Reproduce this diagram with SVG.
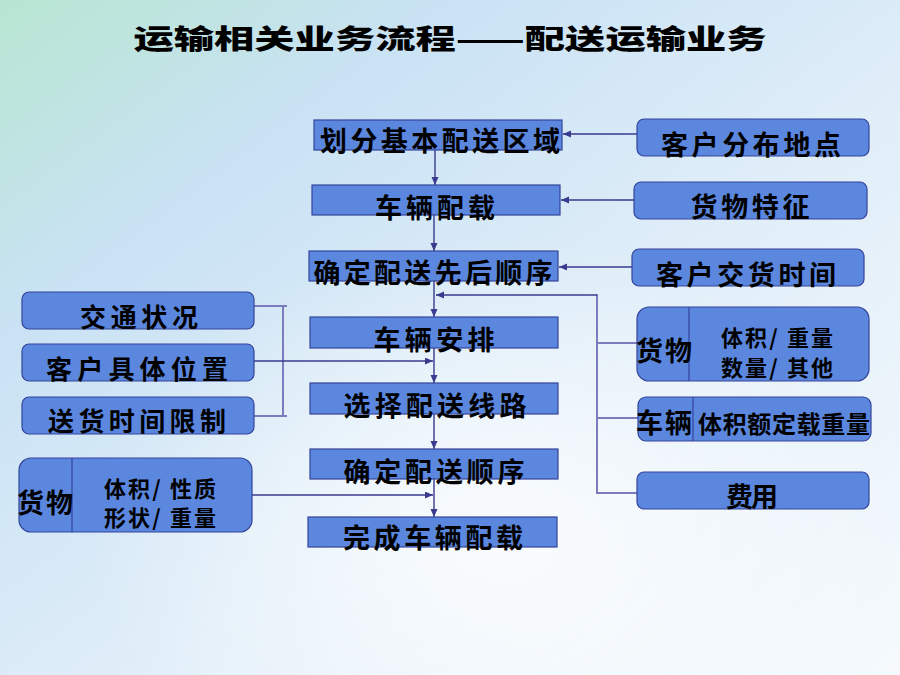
<svg xmlns="http://www.w3.org/2000/svg" width="900" height="675" viewBox="0 0 900 675">
<defs>
<linearGradient id="bg" x1="0" y1="0" x2="1" y2="1">
<stop offset="0" stop-color="#b8e6d2"/>
<stop offset="0.25" stop-color="#c9e2f4"/>
<stop offset="0.6" stop-color="#e2eff9"/>
<stop offset="1" stop-color="#f6fafd"/>
</linearGradient>
<radialGradient id="glow" cx="0.55" cy="0.8" r="0.45">
<stop offset="0" stop-color="#ffffff" stop-opacity="0.8"/>
<stop offset="1" stop-color="#ffffff" stop-opacity="0"/>
</radialGradient>
<marker id="ah" markerUnits="userSpaceOnUse" markerWidth="9" markerHeight="8" refX="8" refY="3.5" orient="auto">
<path d="M0,0 L8,3.5 L0,7 z" fill="#3a3a8e"/>
</marker>
<style>
.box{fill:#5b87de;stroke:#34449a;stroke-width:1.2}
.t{font-family:"Noto Sans CJK SC","Noto Sans CJK JP",sans-serif;font-weight:700;fill:#000;text-anchor:middle}
.c{stroke:#3a3a8e;stroke-width:1.4;fill:none}
.b{stroke:#7b7bbd;stroke-width:2;fill:none}
.div{stroke:#34449a;stroke-width:1.2}
</style>
</defs>
<rect width="900" height="675" fill="url(#bg)"/>
<rect width="900" height="675" fill="url(#glow)"/>

<text x="450" y="49" class="t" style="font-size:27px;font-weight:900" textLength="633" lengthAdjust="spacingAndGlyphs">运输相关业务流程——配送运输业务</text>

<g id="connectors">
<line class="c" x1="435" y1="150" x2="435" y2="185" marker-end="url(#ah)"/>
<line class="c" x1="434" y1="215" x2="434" y2="251" marker-end="url(#ah)"/>
<line class="c" x1="434" y1="281" x2="434" y2="317" marker-end="url(#ah)"/>
<line class="c" x1="434" y1="348" x2="434" y2="383" marker-end="url(#ah)"/>
<line class="c" x1="434" y1="414" x2="434" y2="449" marker-end="url(#ah)"/>
<line class="c" x1="434" y1="479" x2="434" y2="517" marker-end="url(#ah)"/>
<line class="c" x1="637" y1="134" x2="563" y2="134" marker-end="url(#ah)"/>
<line class="c" x1="634" y1="200" x2="561" y2="200" marker-end="url(#ah)"/>
<line class="c" x1="632" y1="267" x2="559" y2="267" marker-end="url(#ah)"/>
<line class="b" x1="597" y1="294" x2="597" y2="494"/>
<line class="c" x1="597" y1="295" x2="436" y2="295" marker-end="url(#ah)"/>
<line class="b" x1="597" y1="343" x2="637" y2="343"/>
<line class="b" x1="597" y1="418" x2="638" y2="418"/>
<line class="b" x1="597" y1="493" x2="637" y2="493"/>
<line class="b" x1="254" y1="306" x2="287" y2="306"/>
<line class="b" x1="254" y1="416" x2="287" y2="416"/>
<line class="b" x1="283" y1="305" x2="283" y2="417"/>
<line class="c" x1="254" y1="361" x2="433" y2="361" marker-end="url(#ah)"/>
<line class="c" x1="252" y1="495" x2="433" y2="495" marker-end="url(#ah)"/>
</g>

<g id="n1"><rect class="box" x="314" y="120" width="248" height="30"/><text class="t" x="440" y="151" style="font-size:27px" textLength="240">划分基本配送区域</text></g>
<g id="n2"><rect class="box" x="312" y="185" width="248" height="30"/><text class="t" x="435" y="218" style="font-size:27px" textLength="120">车辆配载</text></g>
<g id="n3"><rect class="box" x="309" y="251" width="249" height="30"/><text class="t" x="433" y="283" style="font-size:27px" textLength="239">确定配送先后顺序</text></g>
<g id="n4"><rect class="box" x="310" y="317" width="248" height="31"/><text class="t" x="434" y="350" style="font-size:27px" textLength="121">车辆安排</text></g>
<g id="n5"><rect class="box" x="310" y="383" width="248" height="31"/><text class="t" x="435" y="416" style="font-size:27px" textLength="183">选择配送线路</text></g>
<g id="n6"><rect class="box" x="310" y="449" width="248" height="30"/><text class="t" x="434" y="482" style="font-size:27px" textLength="181">确定配送顺序</text></g>
<g id="n7"><rect class="box" x="308" y="517" width="249" height="30"/><text class="t" x="433" y="548" style="font-size:27px" textLength="180">完成车辆配载</text></g>

<g id="l1"><rect class="box" x="22" y="292" width="232" height="37" rx="7"/><text class="t" x="139" y="327" style="font-size:26px" textLength="118">交通状况</text></g>
<g id="l2"><rect class="box" x="22" y="344" width="232" height="37" rx="7"/><text class="t" x="137" y="379" style="font-size:26px" textLength="182">客户具体位置</text></g>
<g id="l3"><rect class="box" x="22" y="397" width="232" height="37" rx="7"/><text class="t" x="137" y="431" style="font-size:26px" textLength="178">送货时间限制</text></g>
<g id="l4"><rect class="box" x="19" y="458" width="233" height="74" rx="12"/><line class="div" x1="72" y1="458" x2="72" y2="532"/>
<text class="t" x="45" y="513" style="font-size:27px" textLength="56">货物</text>
<text class="t" x="160" y="497" style="font-size:22px" textLength="112">体积/ 性质</text>
<text class="t" x="160" y="526" style="font-size:22px" textLength="112">形状/ 重量</text></g>

<g id="r1"><rect class="box" x="637" y="119" width="232" height="37" rx="7"/><text class="t" x="751" y="155" style="font-size:27px" textLength="180">客户分布地点</text></g>
<g id="r2"><rect class="box" x="634" y="182" width="233" height="37" rx="7"/><text class="t" x="750" y="217" style="font-size:27px" textLength="119">货物特征</text></g>
<g id="r3"><rect class="box" x="632" y="249" width="232" height="37" rx="7"/><text class="t" x="746" y="285" style="font-size:27px" textLength="180">客户交货时间</text></g>
<g id="r4"><rect class="box" x="637" y="307" width="232" height="74" rx="12"/><line class="div" x1="689" y1="307" x2="689" y2="381"/>
<text class="t" x="664" y="361" style="font-size:27px" textLength="56">货物</text>
<text class="t" x="777" y="346" style="font-size:22px" textLength="112">体积/ 重量</text>
<text class="t" x="777" y="376" style="font-size:22px" textLength="112">数量/ 其他</text></g>
<g id="r5"><rect class="box" x="638" y="397" width="233" height="44" rx="8"/><line class="div" x1="693" y1="397" x2="693" y2="441"/>
<text class="t" x="664" y="433" style="font-size:27px" textLength="56">车辆</text>
<text class="t" x="784" y="433" style="font-size:24px" textLength="172">体积额定载重量</text></g>
<g id="r6"><rect class="box" x="637" y="472" width="232" height="37" rx="7"/><text class="t" x="752" y="507" style="font-size:27px" textLength="52">费用</text></g>
</svg>
